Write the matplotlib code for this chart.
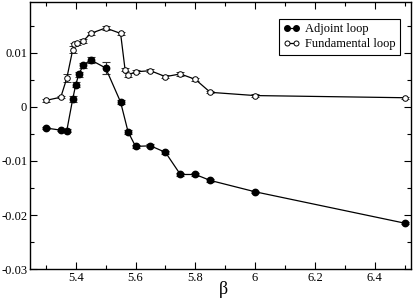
import matplotlib
matplotlib.use("Agg")
import matplotlib.pyplot as plt
from matplotlib.ticker import MultipleLocator, FuncFormatter
from matplotlib.lines import Line2D

plt.rcParams['font.family'] = ['Liberation Serif', 'DejaVu Serif']

beta_adj = [5.30, 5.35, 5.37, 5.39, 5.40, 5.41, 5.425, 5.45, 5.50, 5.55, 5.575, 5.60, 5.65, 5.70, 5.75, 5.80, 5.85, 6.0, 6.5]
adj = [-0.0039, -0.0043, -0.0044, 0.0015, 0.0041, 0.0060, 0.0077, 0.0087, 0.0072, 0.0009, -0.0046, -0.0073, -0.0072, -0.0084, -0.0125, -0.0125, -0.0136, -0.0157, -0.0215]
adj_err = [0.0002, 0.0002, 0.0003, 0.0005, 0.0005, 0.0005, 0.0005, 0.0005, 0.0011, 0.0003, 0.0004, 0.0003, 0.0003, 0.0003, 0.0003, 0.0003, 0.0002, 0.0002, 0.0002]

beta_fun = [5.30, 5.35, 5.37, 5.39, 5.395, 5.405, 5.425, 5.45, 5.50, 5.55, 5.565, 5.575, 5.60, 5.65, 5.70, 5.75, 5.80, 5.85, 6.0, 6.5]
fun = [0.0012, 0.0018, 0.0053, 0.0106, 0.0116, 0.0118, 0.0122, 0.0136, 0.0146, 0.0136, 0.0069, 0.0059, 0.0065, 0.0067, 0.0056, 0.0061, 0.0051, 0.0027, 0.0021, 0.0017]
fun_err = [0.0002, 0.0002, 0.0007, 0.0006, 0.0003, 0.0003, 0.0003, 0.0003, 0.0004, 0.0003, 0.0003, 0.0004, 0.0003, 0.0003, 0.0003, 0.0003, 0.0003, 0.0002, 0.0002, 0.0002]

labels = ['Adjoint loop', 'Fundamental loop']

fig = plt.figure(figsize=(4.15, 3.02), dpi=100)
ax = fig.add_axes([0.0723, 0.109, 0.917, 0.886])

ax.errorbar(beta_adj, adj, yerr=adj_err, color='black', lw=0.9, marker='o', ms=4.6,
            mfc='black', mec='black', capsize=3.2, elinewidth=0.8, capthick=0.8,
            ecolor='#333333')
ax.errorbar(beta_fun, fun, yerr=fun_err, color='black', lw=0.9, marker='o', ms=4.0,
            mfc='white', mec='black', mew=0.7, capsize=3.2, elinewidth=0.8, capthick=0.8,
            ecolor='#333333')

ax.set_xlim(5.247, 6.52)
ax.set_ylim(-0.03, 0.0195)
ax.xaxis.set_major_locator(MultipleLocator(0.2))
ax.xaxis.set_minor_locator(MultipleLocator(0.1))
ax.yaxis.set_major_locator(MultipleLocator(0.01))
ax.yaxis.set_minor_locator(MultipleLocator(0.005))

def yfmt(v, p):
    if abs(v) < 1e-9:
        return '0'
    return '%g' % round(v, 3)
ax.yaxis.set_major_formatter(FuncFormatter(yfmt))
ax.xaxis.set_major_formatter(FuncFormatter(lambda v, p: '%g' % round(v, 2)))

ax.tick_params(which='both', direction='in', top=True, right=True, labelsize=9)
ax.tick_params(which='major', length=5, width=0.8, pad=2)
ax.tick_params(which='minor', length=3, width=0.8)
for s in ax.spines.values():
    s.set_linewidth(1.0)

ax.set_xlabel('β', fontsize=13)
ax.xaxis.set_label_coords(0.507, -0.045)

handles = [
    Line2D([], [], color='black', lw=0.9, marker='o', ms=4.0, mfc='black', mec='black'),
    Line2D([], [], color='black', lw=0.9, marker='o', ms=3.6, mfc='white', mec='black', mew=0.7),
]
leg = ax.legend(handles, labels, loc='upper right', bbox_to_anchor=(0.972, 0.935), numpoints=2,
                fontsize=9, frameon=True, fancybox=False, edgecolor='black',
                framealpha=1, handlelength=1.3, handletextpad=0.4, borderpad=0.35,
                labelspacing=0.25, borderaxespad=0)
leg.get_frame().set_linewidth(0.8)

fig.savefig('out.png', dpi=100)
